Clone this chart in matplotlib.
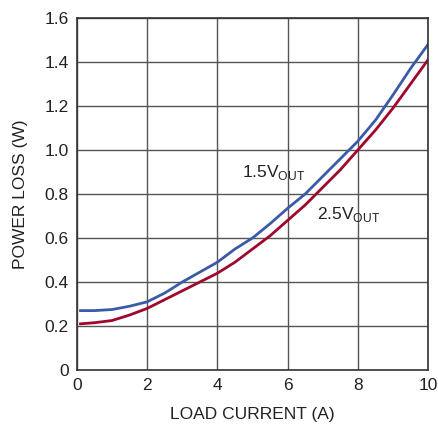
import matplotlib
matplotlib.use("Agg")
import matplotlib.pyplot as plt

# Datos
corriente = [0.1, 0.5, 1.0, 1.5, 2.0, 2.5, 3.0, 3.5, 4.0, 4.5, 5.0, 5.5,
             6.0, 6.5, 7.0, 7.5, 8.0, 8.5, 9.0, 9.5, 10.0]
perdida_15 = [0.27, 0.27, 0.275, 0.29, 0.31, 0.35, 0.40, 0.445, 0.49, 0.55, 0.60, 0.665,
              0.735, 0.80, 0.88, 0.96, 1.04, 1.135, 1.25, 1.37, 1.48]
perdida_25 = [0.21, 0.215, 0.225, 0.25, 0.28, 0.32, 0.36, 0.40, 0.44, 0.49, 0.55, 0.61,
              0.68, 0.75, 0.83, 0.91, 1.00, 1.09, 1.19, 1.30, 1.41]

plt.rcParams['font.family'] = ['Liberation Sans', 'DejaVu Sans']
texto = '#222222'

fig = plt.figure(figsize=(4.39, 4.25), dpi=100)
ax = fig.add_axes([0.1754, 0.1294, 0.7996, 0.8282])

ax.plot(corriente, perdida_15, color='#3b5ba9', linewidth=2.0)
ax.plot(corriente, perdida_25, color='#a0072d', linewidth=2.0)

ax.set_xlim(0, 10)
ax.set_ylim(0, 1.6)
ax.set_xticks([0, 2, 4, 6, 8, 10])
ax.set_yticks([0, 0.2, 0.4, 0.6, 0.8, 1.0, 1.2, 1.4, 1.6])
ax.set_yticklabels(['0', '0.2', '0.4', '0.6', '0.8', '1.0', '1.2', '1.4', '1.6'])
ax.tick_params(length=0, labelsize=12.5, colors=texto, pad=6)
ax.grid(True, color='#555555', linewidth=1.0)
for s in ax.spines.values():
    s.set_color('#333333')
    s.set_linewidth(1.2)

ax.set_xlabel('LOAD CURRENT (A)', fontsize=12.5, color=texto, labelpad=10)
ax.set_ylabel('POWER LOSS (W)', fontsize=12.5, color=texto, labelpad=12)

ax.text(4.7, 0.9, r'1.5V$_{\mathregular{OUT}}$', fontsize=12.5, color=texto,
        ha='left', va='center')
ax.text(6.85, 0.705, r'2.5V$_{\mathregular{OUT}}$', fontsize=12.5, color=texto,
        ha='left', va='center')

fig.savefig('out.png', dpi=100)
